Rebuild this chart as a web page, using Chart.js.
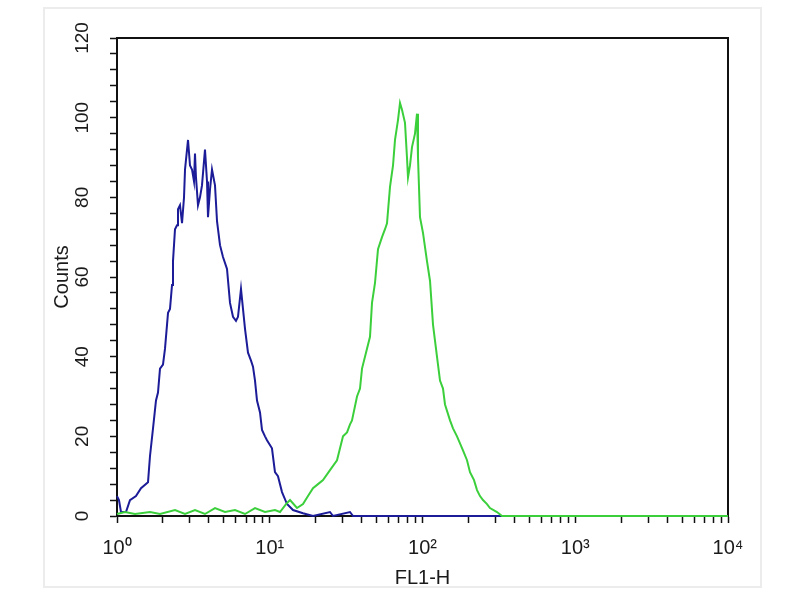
<!DOCTYPE html>
<html lang="en">
  <head>
    <meta charset="UTF-8" />
    <script src="https://cdn.jsdelivr.net/npm/chart.js"></script>
    <title>FL1-H histogram</title>
    <style>
      body { margin: 0; background: #fff; }
      #wrap { position: relative; width: 800px; height: 600px; }
      #frame {
        position: absolute; left: 43px; top: 7px; width: 715px; height: 577px;
        border: 2px solid #ececec;
      }
      canvas { position: absolute; left: 0; top: 0; }
    </style>
  </head>
  <body>
    <div id="wrap">
      <div id="frame"></div>
      <canvas id="chart" width="800" height="600"></canvas>
    </div>
  </body>
</html>
<script>
  // FL1-H (log scale) vs counts
  const blueX = [1, 1.03, 1.062, 1.145, 1.216, 1.331, 1.436, 1.596, 1.644, 1.721, 1.8, 1.855,
    1.912, 2.0, 2.062, 2.158, 2.223, 2.292, 2.326, 2.397, 2.471, 2.508, 2.585, 2.665, 2.746,
    2.788, 2.917, 3.006, 3.097, 3.192, 3.24, 3.289, 3.39, 3.494, 3.601, 3.767, 3.884, 3.942,
    4.063, 4.187, 4.381, 4.516, 4.724, 4.942, 5.25, 5.493, 5.746, 6.012, 6.196, 6.482, 6.681,
    6.887, 7.205, 7.539, 7.769, 8.007, 8.252, 8.634, 8.899, 9.309, 9.594, 10.34, 10.82, 11.32,
    12.03, 12.97, 14.2, 16.51, 19.19, 24.8, 25.95, 33.53, 35.08, 289.4, 10000];
  const blueY = [5, 4, 1, 1, 4, 5, 7, 8.5, 15, 22, 29, 31,
    37, 38, 42, 51, 52, 58, 64, 72, 73, 77, 78, 73.5, 80,
    87, 94.4, 88, 87, 84, 91, 85, 78, 80, 83, 92, 84, 75,
    82, 87, 83, 74, 68, 65, 62, 53.5, 50, 49, 50, 57, 52,
    47, 41, 39, 37.5, 34, 29, 26, 21.6, 20, 19, 17, 11, 10,
    6, 3, 1.5, 0.7, 0, 1, 0, 1, 0, 0, 0];

  const greenX = [1, 1.128, 1.311, 1.644, 1.912, 2.397, 2.788, 3.24, 3.767, 4.381, 5.093, 5.922,
    6.887, 8.007, 9.309, 10.82, 11.67, 12.78, 13.57, 15.08, 16.51, 17.8, 19.19, 20.7, 22.32,
    24.8, 27.56, 30.17, 32.05, 33.53, 34.55, 37.26, 38.98, 40.18, 43.31, 45.32, 46.71, 48.87,
    51.13, 54.31, 56.82, 58.56, 61.27, 64.12, 66.07, 69.11, 71.24, 73.42, 76.81, 79.15, 80.36,
    82.82, 85.36, 89.3, 92.05, 93.44, 96.3, 100.8, 107.0, 112.0, 117.2, 124.4, 130.2, 136.2,
    140.4, 151.4, 158.4, 168.2, 184.1, 195.6, 204.6, 217.4, 227.5, 237.9, 248.9, 264.4, 276.6,
    307.4, 331.5, 10000];
  const greenY = [0.5, 1, 0.5, 1, 0.5, 1.5, 0.5, 1.5, 0.5, 2, 1, 1.5,
    0.5, 2, 1, 1.5, 1, 3, 4, 2, 3, 5, 7, 8, 9,
    11.5, 14, 20, 21, 23, 24, 30, 32, 37, 42, 45, 53.5, 58.5,
    67, 70, 72, 73.5, 82.6, 88, 94.4, 99.4, 103.7, 102, 98.7, 90, 85,
    88, 92.6, 96, 101, 90, 75, 71, 64, 59, 48, 40, 34, 32,
    28, 24, 22, 20, 16.5, 14, 11, 9, 6.5, 5, 4, 3, 2,
    1, 0, 0];

  const xTickValues = [1, 10, 100, 1000, 10000];
  const xTickLabels = ["10⁰", "10¹", "10²", "10³", "10⁴"];

  const toPoints = (xs, ys) => xs.map((x, i) => ({ x: x, y: ys[i] }));

  // black box round the plot area
  const boxPlugin = {
    id: "box",
    beforeDatasetsDraw(chart) {
      const { ctx, chartArea: a } = chart;
      ctx.save();
      ctx.strokeStyle = "#111";
      ctx.lineWidth = 2;
      ctx.strokeRect(a.left, a.top, a.right - a.left, a.bottom - a.top);
      ctx.restore();
    },
  };

  Chart.defaults.font.family = "'Liberation Sans', Arial, sans-serif";
  Chart.defaults.color = "#1a1a1a";

  new Chart(document.getElementById("chart"), {
    type: "line",
    data: {
      datasets: [
        {
          label: "stained",
          data: toPoints(greenX, greenY),
          borderColor: "#3ccf3c",
          borderWidth: 2,
          pointRadius: 0,
          tension: 0,
          clip: false,
        },
        {
          label: "control",
          data: toPoints(blueX, blueY),
          borderColor: "#1c1c98",
          borderWidth: 2,
          pointRadius: 0,
          tension: 0,
          clip: false,
        },
      ],
    },
    options: {
      responsive: false,
      animation: false,
      layout: { padding: { left: 0, top: 38, right: 72, bottom: 0 } },
      plugins: { legend: { display: false }, tooltip: { enabled: false } },
      scales: {
        x: {
          type: "logarithmic",
          min: 1,
          max: 10000,
          afterBuildTicks: (scale) => {
            // keep 1..9 in each decade, drop the 15/150/1500 steps
            scale.ticks = scale.ticks.filter((t) => {
              const m = t.value / Math.pow(10, Math.floor(Math.log10(t.value) + 1e-9));
              return Math.abs(m - Math.round(m)) < 1e-6;
            });
          },
          afterFit: (scale) => { scale.height = 84; },
          ticks: {
            autoSkip: false,
            maxRotation: 0,
            padding: 13,
            font: { size: 20 },
            callback: (v) => {
              const i = xTickValues.indexOf(v);
              return i >= 0 ? xTickLabels[i] : "";
            },
          },
          grid: { drawOnChartArea: false, tickLength: 7, tickWidth: 1.5, tickColor: "#111" },
          border: { color: "#111", width: 2 },
          title: { display: true, text: "FL1-H", font: { size: 20 }, padding: { bottom: 10 } },
        },
        y: {
          min: 0,
          max: 120,
          afterFit: (scale) => { scale.width = 117; },
          ticks: {
            stepSize: 4,
            autoSkip: false,
            minRotation: 90,
            maxRotation: 90,
            crossAlign: "center",
            padding: 11,
            font: { size: 19 },
            callback: (v) => (v % 20 === 0 ? String(v) : ""),
          },
          grid: { drawOnChartArea: false, tickLength: 7, tickWidth: 1.5, tickColor: "#111" },
          border: { color: "#111", width: 2 },
          title: { display: true, text: "Counts", font: { size: 20 }, padding: { top: 50 } },
        },
      },
    },
    plugins: [boxPlugin],
  });
</script>
